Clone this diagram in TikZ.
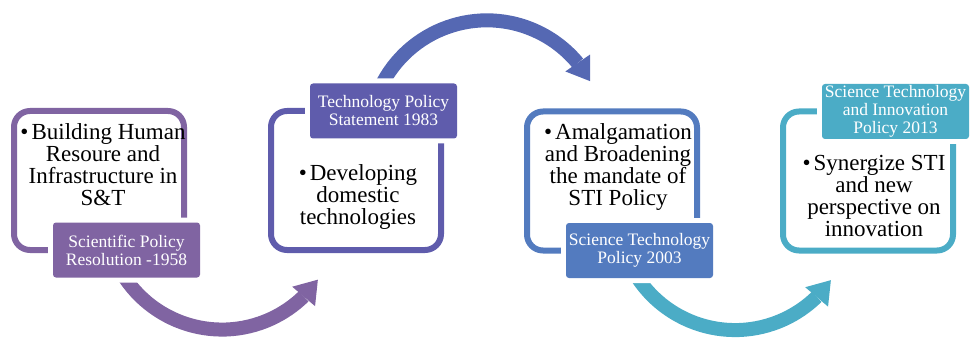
\documentclass[tikz,border=0pt]{standalone}
\usepackage{fontspec}
\setmainfont{Liberation Serif}
\usepackage{tikz}
\usetikzlibrary{positioning, arrows.meta, bending}

\definecolor{stepone}{HTML}{8064A2}
\definecolor{steptwo}{HTML}{5F5CAC}
\definecolor{stepmid}{HTML}{5568B3}
\definecolor{stepthree}{HTML}{537BBF}
\definecolor{stepfour}{HTML}{4BACC6}

\newcommand{\itemfont}{\fontsize{23}{22}\selectfont}
\newcommand{\tagfont}{\fontsize{17.5}{18}\selectfont}

\begin{document}
\begin{tikzpicture}[
        x=1pt, y=1pt,
        % Style for the rounded outline of each stage
        stagebox/.style={
            draw=#1,
            line width=6pt,
            rounded corners=16pt,
            minimum width=170pt,
            minimum height=139pt,
            inner sep=0pt,
            outer sep=0pt
        },
        % Style for the coloured policy tags
        policytag/.style={
            fill=#1,
            text=white,
            rounded corners=3pt,
            minimum width=147pt,
            minimum height=55pt,
            inner sep=1pt,
            align=center,
            font=\tagfont,
            preaction={draw=white, line width=10pt}
        },
        % Style for the bullet text inside a stage
        stagetext/.style={
            align=center,
            inner sep=0pt,
            font=\itemfont
        },
        % Style for the curved block arrows
        flowarrow/.style={
            draw=#1,
            line width=14pt,
            -{Triangle[length=22pt, width=30pt, line width=0pt]}
        }
    ]

    \useasboundingbox (0,0) rectangle (970,338);

    % ==========================================
    % STAGE OUTLINES
    % ==========================================
    \node[stagebox=stepone]   (box1) at (99,157.5)  {};
    \node[stagebox=steptwo]   (box2) at (356,157.5) {};
    \node[stagebox=stepthree] (box3) at (612,157)   {};
    \node[stagebox=stepfour]  (box4) at (868,157)   {};

    % ==========================================
    % CURVED ARROWS BETWEEN STAGES
    % ==========================================
    \draw[flowarrow=stepone] ([shift={(17,-12)}]box1.south)
        arc[start angle=205, end angle=325, radius=117];
    \draw[flowarrow=stepmid] ([shift={(20,13)}]box2.north)
        arc[start angle=160, end angle=29, radius=118];
    \draw[flowarrow=stepfour] ([shift={(17,-12)}]box3.south)
        arc[start angle=205, end angle=325, radius=117];

    % ==========================================
    % POLICY TAGS
    % ==========================================
    \node[policytag=stepone]   (tag1) at ([xshift=27.5pt]box1.south) {Scientific Policy\\Resolution -1958};
    \node[policytag=steptwo]   (tag2) at ([xshift=27.5pt]box2.north) {Technology Policy\\Statement 1983};
    \node[policytag=stepthree] (tag3) at ([xshift=27.5pt]box3.south) {Science Technology\\Policy 2003};
    \node[policytag=stepfour]  (tag4) at ([xshift=27.5pt]box4.north) {Science Technology\\and Innovation\\Policy 2013};

    % Bullet texts of each stage
    \node[stagetext] (txt1) at ([shift={(4,15.5)}]box1.center)
        {\textbullet\hspace{3pt}Building Human\\Resoure and\\Infrastructure in\\S\&T};
    \node[stagetext] (txt2) at ([shift={(2,-17)}]box2.center)
        {\textbullet\hspace{3pt}Developing\\domestic\\technologies};
    \node[stagetext] (txt3) at ([shift={(6,13.5)}]box3.center)
        {\textbullet\hspace{3pt}Amalgamation\\and Broadening\\the mandate of\\STI Policy};
    \node[stagetext] (txt4) at ([shift={(6,-15)}]box4.center)
        {\textbullet\hspace{3pt}Synergize STI\\and new\\perspective on\\innovation};

\end{tikzpicture}
\end{document}
